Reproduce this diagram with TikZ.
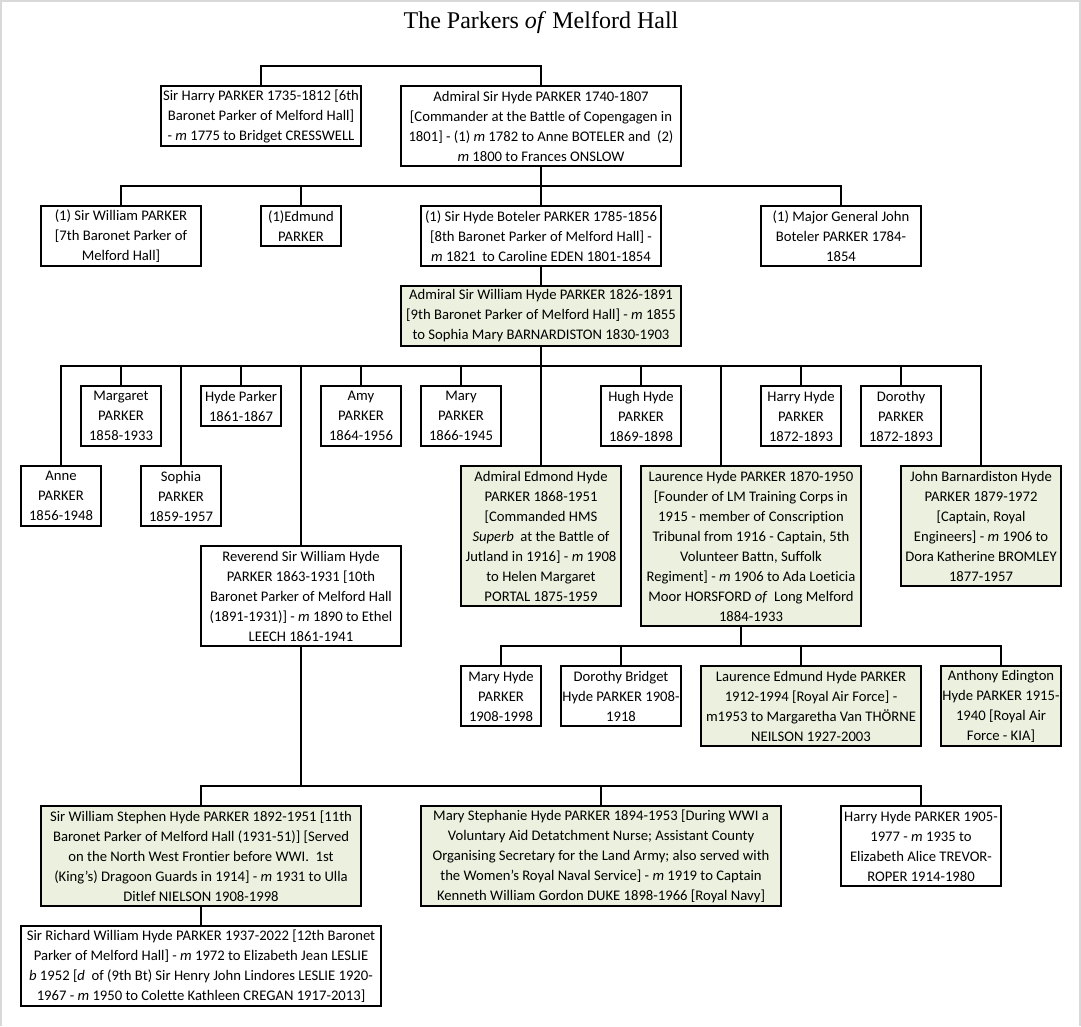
\documentclass[tikz,border=0pt]{standalone}
\usepackage{fontspec}
\setmainfont{Carlito}[Ligatures={NoCommon}]
\newfontfamily\titlefont{Liberation Serif}
\definecolor{boxgreen}{HTML}{EBF1DE}
\definecolor{framegray}{HTML}{D9D9D9}
\tikzset{
  box/.style={draw=black, line width=0.8pt, fill=white, inner sep=0pt, align=center,
    font=\fontsize{11}{15}\selectfont},
  hl/.style={fill=boxgreen},
  link/.style={draw=black, line width=0.8pt},
}
\newcommand\pbox[7][]{%
  \node[box,#1,minimum width={(#5-#3)*0.75pt},minimum height={(#6-#4)*0.75pt}]
    (#2) at ({(#3+#5)/2},{(#4+#6)/2}) {#7};}
\begin{document}
\begin{tikzpicture}[x=0.75pt,y=-0.75pt]
\useasboundingbox (0,0) rectangle (1081,1026);
\fill[white] (0,0) rectangle (1081,1026);
\draw[framegray, line width=1.5pt] (0.7,1026) -- (0.7,0.7) -- (1079.8,0.7) -- (1079.8,1026);

\node[font=\titlefont\fontsize{18}{22}\selectfont] (title) at (541,23) {The Parkers \textit{of} Melford Hall};

% generation 1
\pbox{harry}{161}{86}{361}{146}{Sir Harry PARKER 1735-1812 [6th\\Baronet Parker of Melford Hall]\\- \textit{m} 1775 to Bridget CRESSWELL}
\pbox{hydeA}{401}{86}{681}{166}{Admiral Sir Hyde PARKER 1740-1807\\{[}Commander at the Battle of Copengagen in\\1801] - (1) \textit{m} 1782 to Anne BOTELER and~ (2)\\\textit{m} 1800 to Frances ONSLOW}
\coordinate (bus0) at (541,66);
\draw[link] (harry.north) |- (bus0) -- (hydeA.north);

% generation 2
\pbox{wil7}{41}{206}{201}{266}{(1) Sir William PARKER\\{[}7th Baronet Parker of\\Melford Hall]}
\pbox{edmund}{261}{206}{341}{246}{(1)Edmund\\PARKER}
\pbox{hydeB}{421}{206}{661}{266}{(1) Sir Hyde Boteler PARKER 1785-1856\\{[}8th Baronet Parker of Melford Hall] -\\\textit{m} 1821~ to Caroline EDEN 1801-1854}
\pbox{johnA}{761}{206}{921}{266}{(1) Major General John\\Boteler PARKER 1784-\\1854}
\coordinate (bus1) at (541,186);
\draw[link] (hydeA.south) -- (bus1);
\foreach \c in {wil7,edmund,hydeB,johnA} \draw[link] (\c.north) |- (bus1);

% generation 3
\pbox[hl]{whp}{401}{286}{681}{346}{Admiral Sir William Hyde PARKER 1826-1891\\{[}9th Baronet Parker of Melford Hall] - \textit{m} 1855\\to Sophia Mary BARNARDISTON 1830-1903}
\draw[link] (hydeB.south) -- (whp.north);

% generation 4
\pbox{margaret}{81}{386}{161}{446}{Margaret\\PARKER\\1858-1933}
\pbox{hydeP}{201}{386}{281}{426}{Hyde Parker\\1861-1867}
\pbox{amy}{321}{386}{401}{446}{Amy\\PARKER\\1864-1956}
\pbox{mary}{421}{386}{501}{446}{Mary\\PARKER\\1866-1945}
\pbox{hugh}{601}{386}{681}{446}{Hugh Hyde\\PARKER\\1869-1898}
\pbox{harryH}{761}{386}{841}{446}{Harry Hyde\\PARKER\\1872-1893}
\pbox{dorothy}{861}{386}{941}{446}{Dorothy\\PARKER\\1872-1893}
\pbox{anne}{21}{466}{101}{526}{Anne\\PARKER\\1856-1948}
\pbox{sophia}{141}{466}{221}{526}{Sophia\\PARKER\\1859-1957}
\pbox[hl]{edmond}{461}{466}{621}{606}{Admiral Edmond Hyde\\PARKER 1868-1951\\{[}Commanded HMS\\\textit{Superb}~ at the Battle of\\Jutland in 1916] - \textit{m} 1908\\to Helen Margaret\\PORTAL 1875-1959}
\pbox[hl]{laurence}{641}{466}{861}{626}{Laurence Hyde PARKER 1870-1950\\{[}Founder of LM Training Corps in\\1915 - member of Conscription\\Tribunal from 1916 - Captain, 5th\\Volunteer Battn, Suffolk\\Regiment] - \textit{m} 1906 to Ada Loeticia\\Moor HORSFORD \textit{of}~ Long Melford\\1884-1933}
\pbox[hl]{johnB}{901}{466}{1061}{586}{John Barnardiston Hyde\\PARKER 1879-1972\\{[}Captain, Royal\\Engineers] - \textit{m} 1906 to\\Dora Katherine BROMLEY\\1877-1957}
\pbox{reverend}{201}{546}{401}{646}{Reverend Sir William Hyde\\PARKER 1863-1931 [10th\\Baronet Parker of Melford Hall\\(1891-1931)] - \textit{m} 1890 to Ethel\\LEECH 1861-1941}
\coordinate (bus2) at (541,366);
\draw[link] (whp.south) -- (edmond.north);
\foreach \c in {anne,margaret,sophia,hydeP,reverend,amy,mary,hugh,harryH,dorothy,johnB} \draw[link] (\c.north) |- (bus2);
\draw[link] ([xshift=-22.5pt]laurence.north) |- (bus2);

% generation 5 (Laurence's children)
\pbox{maryH}{461}{666}{541}{726}{Mary Hyde\\PARKER\\1908-1998}
\pbox{dorothyB}{561}{666}{681}{726}{Dorothy Bridget\\Hyde PARKER 1908-\\1918}
\pbox[hl]{laurenceE}{701}{666}{921}{746}{Laurence Edmund Hyde PARKER\\1912-1994 [Royal Air Force] -\\m1953 to Margaretha Van THÖRNE\\NEILSON 1927-2003}
\pbox[hl]{anthony}{941}{666}{1061}{746}{Anthony Edington\\Hyde PARKER 1915-\\1940 [Royal Air\\Force - KIA]}
\coordinate (bus3) at (741,646);
\draw[link] ([xshift=-7.5pt]laurence.south) -- (bus3);
\foreach \c in {maryH,dorothyB,anthony} \draw[link] (\c.north) |- (bus3);
\draw[link] ([xshift=-7.5pt]laurenceE.north) |- (bus3);

% generation 5 (Reverend's children)
\pbox[hl]{wilS}{41}{806}{361}{906}{Sir William Stephen Hyde PARKER 1892-1951 [11th\\Baronet Parker of Melford Hall (1931-51)] [Served\\on the North West Frontier before WWI.~ 1st\\(King's) Dragoon Guards in 1914] - \textit{m} 1931 to Ulla\\Ditlef NIELSON 1908-1998}
\pbox[hl]{maryS}{421}{806}{781}{906}{Mary Stephanie Hyde PARKER 1894-1953 [During WWI a\\Voluntary Aid Detatchment Nurse; Assistant County\\Organising Secretary for the Land Army; also served with\\the Women's Royal Naval Service] - \textit{m} 1919 to Captain\\Kenneth William Gordon DUKE 1898-1966 [Royal Navy]}
\pbox{harry05}{841}{806}{1001}{886}{Harry Hyde PARKER 1905-\\1977 - \textit{m} 1935 to\\Elizabeth Alice TREVOR-\\ROPER 1914-1980}
\coordinate (bus4) at (301,786);
\draw[link] (reverend.south) -- (bus4);
\foreach \c in {wilS,maryS,harry05} \draw[link] (\c.north) |- (bus4);

% generation 6
\pbox{richard}{21}{926}{381}{1006}{Sir Richard William Hyde PARKER 1937-2022 [12th Baronet\\Parker of Melford Hall] - \textit{m} 1972 to Elizabeth Jean LESLIE\\\textit{b} 1952 [\textit{d}~ of (9th Bt) Sir Henry John Lindores LESLIE 1920-\\1967 - \textit{m} 1950 to Colette Kathleen CREGAN 1917-2013]}
\draw[link] (wilS.south) -- (richard.north);
\end{tikzpicture}
\end{document}
